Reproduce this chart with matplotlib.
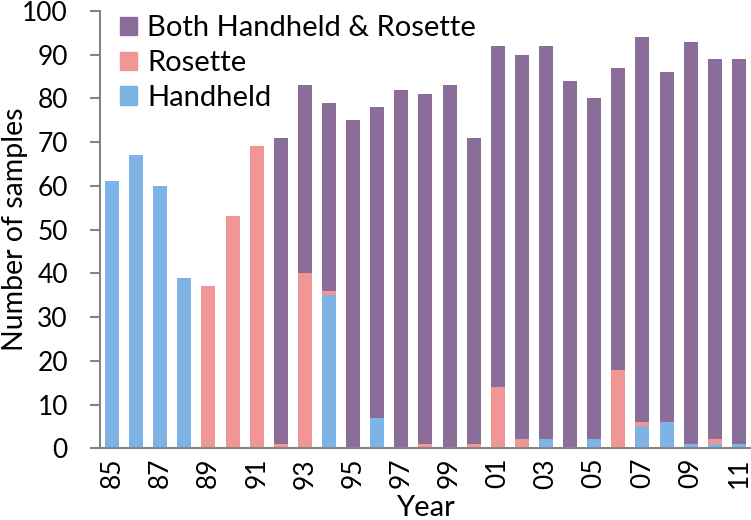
import numpy as np
import matplotlib.pyplot as plt
from matplotlib.patches import Patch

years = ["85", "86", "87", "88", "89", "90", "91", "92", "93", "94", "95", "96", "97", "98",
         "99", "00", "01", "02", "03", "04", "05", "06", "07", "08", "09", "10", "11"]
handheld = [61, 67, 60, 39, 0, 0, 0, 0, 0, 35, 0, 7, 0, 0,
            0, 0, 0, 0, 2, 0, 2, 0, 5, 6, 1, 1, 1]
rosette = [0, 0, 0, 0, 37, 53, 69, 1, 40, 1, 0, 0, 0, 1,
           0, 1, 14, 2, 0, 0, 0, 18, 1, 0, 0, 1, 0]
both = [0, 0, 0, 0, 0, 0, 0, 70, 43, 43, 75, 71, 82, 80,
        83, 70, 78, 88, 90, 84, 78, 69, 88, 80, 92, 87, 88]

c_hand = "#7db4e5"
c_ros = "#f09694"
c_both = "#8a6d99"

plt.rcParams['font.family'] = ['Lato', 'DejaVu Sans']

fig = plt.figure(figsize=(7.51, 5.2), dpi=100)
ax = fig.add_axes([0.133, 0.138, 0.867, 0.841])

x = np.arange(len(years))
h = np.array(handheld)
r = np.array(rosette)
b = np.array(both)
w = 0.58
ax.bar(x, h, w, color=c_hand)
ax.bar(x, r, w, bottom=h, color=c_ros)
ax.bar(x, b, w, bottom=h + r, color=c_both)

ax.set_xlim(-0.5, len(years) - 0.5)
ax.set_ylim(0, 100)
ax.set_yticks(range(0, 101, 10))
ax.set_xticks(x[::2])
ax.set_xticklabels(years[::2], rotation=90)
ax.tick_params(axis='y', length=7, width=1.5, color='#868686', labelsize=19, pad=16)
ax.tick_params(axis='x', length=0, labelsize=19, pad=7)

for s in ['top', 'right']:
    ax.spines[s].set_visible(False)
for s in ['left', 'bottom']:
    ax.spines[s].set_color('#868686')
    ax.spines[s].set_linewidth(1.5)

ax.set_ylabel("Number of samples", fontsize=20.5)
ax.yaxis.set_label_coords(-0.111, 0.5)
ax.set_xlabel("Year", fontsize=21, va='baseline')
ax.xaxis.set_label_coords(0.5, -0.155)

handles = [Patch(color=c_both), Patch(color=c_ros), Patch(color=c_hand)]
ax.legend(handles, ["Both Handheld & Rosette", "Rosette", "Handheld"],
          loc='upper left', bbox_to_anchor=(-0.01, 1.05), frameon=False,
          fontsize=21, handlelength=0.6, handleheight=0.6, handletextpad=0.35,
          labelspacing=0.3)

fig.savefig("out.png", dpi=100)
